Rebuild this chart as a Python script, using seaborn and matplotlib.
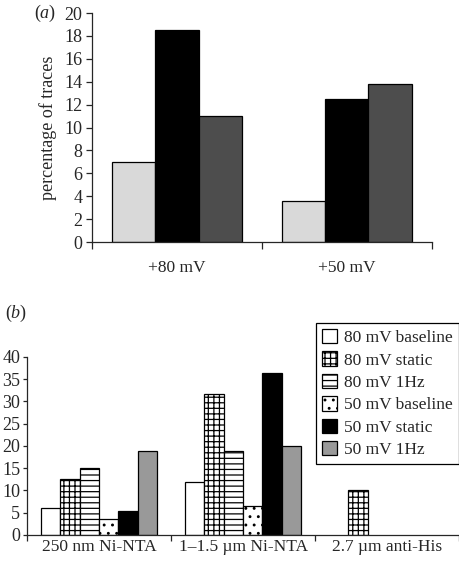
import numpy as np
import pandas as pd
import matplotlib
matplotlib.use("Agg")
import matplotlib.pyplot as plt
import seaborn as sns
from matplotlib.patches import Patch

# ---- data (a) ----
groups_a = ["+80 mV", "+50 mV"]
series_a = ["baseline", "static", "1Hz"]
baseline_a = [7.0, 3.6]
static_a = [18.5, 12.5]
hz_a = [11.0, 13.8]
colors_a = ["#d9d9d9", "#000000", "#4d4d4d"]

# ---- data (b) ----
groups_b = ["250 nm Ni-NTA", "1\u20131.5 \u00b5m Ni-NTA", "2.7 \u00b5m anti-His"]
series_b = ["80 mV baseline", "80 mV static", "80 mV 1Hz",
            "50 mV baseline", "50 mV static", "50 mV 1Hz"]
b80_base = [6.0, 12.0, np.nan]
b80_static = [12.5, 31.6, 10.0]
b80_1hz = [15.0, 18.8, np.nan]
b50_base = [3.5, 6.6, np.nan]
b50_static = [5.3, 36.4, np.nan]
b50_1hz = [18.8, 20.0, np.nan]
colors_b = ["white", "white", "white", "white", "black", "#999999"]
hatches_b = ["", "+++", "---", "..", "", ""]

sns.set_style("ticks")
plt.rcParams["font.family"] = ["Liberation Serif", "DejaVu Serif"]
plt.rcParams["mathtext.fontset"] = "custom"
plt.rcParams["mathtext.rm"] = "Liberation Serif"
plt.rcParams["mathtext.it"] = "Liberation Serif:italic"
plt.rcParams["hatch.linewidth"] = 0.9

df_a = pd.DataFrame({
    "group": groups_a * 3,
    "series": np.repeat(series_a, len(groups_a)),
    "value": baseline_a + static_a + hz_a,
})
df_b = pd.DataFrame({
    "group": groups_b * 6,
    "series": np.repeat(series_b, len(groups_b)),
    "value": b80_base + b80_static + b80_1hz + b50_base + b50_static + b50_1hz,
})

fig = plt.figure(figsize=(4.6, 5.66), dpi=100)
ax1 = fig.add_axes([0.2, 0.5724, 0.739, 0.4046])
ax2 = fig.add_axes([0.0587, 0.0548, 0.9393, 0.3145])

# panel (a)
sns.barplot(data=df_a, x="group", y="value", hue="series", order=groups_a,
            hue_order=series_a, palette=colors_a, saturation=1, width=0.76,
            errorbar=None, edgecolor="black", linewidth=0.9, legend=False, ax=ax1)
ax1.set_xlim(-0.5, 1.5)
ax1.set_ylim(0, 20)
ax1.set_yticks(range(0, 21, 2))
ax1.set_xlabel("")
ax1.set_ylabel("percentage of traces", fontsize=13, labelpad=5)
ax1.set_xticks([-0.5, 0.5, 1.5], minor=True)
ax1.tick_params(axis="x", which="major", length=0, pad=13, labelsize=12.5)
ax1.tick_params(axis="x", which="minor", length=5, width=0.9, direction="out")
ax1.tick_params(axis="y", length=4, width=0.9, pad=3, labelsize=13)
sns.despine(ax=ax1)
for s in ["left", "bottom"]:
    ax1.spines[s].set_linewidth(0.9)

# panel (b)
sns.barplot(data=df_b, x="group", y="value", hue="series", order=groups_b,
            hue_order=series_b, palette=colors_b, saturation=1, width=0.81,
            errorbar=None, edgecolor="black", linewidth=0.9, legend=False, ax=ax2)
for cont, h in zip(ax2.containers, hatches_b):
    for bar in cont:
        bar.set_hatch(h)
ax2.set_xlim(-0.5, 2.5)
ax2.set_ylim(0, 40)
ax2.set_yticks(range(0, 41, 5))
ax2.set_xlabel("")
ax2.set_ylabel("")
ax2.set_xticks([-0.5, 0.5, 1.5, 2.5], minor=True)
ax2.tick_params(axis="x", which="major", length=0, pad=3, labelsize=12.5)
ax2.tick_params(axis="x", which="minor", length=4, width=0.9, direction="out")
ax2.tick_params(axis="y", length=3, width=0.9, pad=2, labelsize=13)
sns.despine(ax=ax2)
for s in ["left", "bottom"]:
    ax2.spines[s].set_linewidth(0.9)

handles = [Patch(facecolor=c, edgecolor="black", hatch=h, linewidth=0.9)
           for c, h in zip(colors_b, hatches_b)]
leg = fig.legend(handles, series_b, loc="upper right",
                 bbox_to_anchor=(459 / 460, 1 - 323 / 566),
                 bbox_transform=fig.transFigure, borderaxespad=0,
                 fontsize=12.5, handlelength=0.9, handleheight=0.9,
                 handletextpad=0.4, labelspacing=0.3, borderpad=0.35,
                 fancybox=False, framealpha=1, edgecolor="black")
leg.get_frame().set_linewidth(0.9)

fig.text(0.075, 1 - 13 / 566, "($a$)", fontsize=13, va="center")
fig.text(0.01, 1 - 313 / 566, "($b$)", fontsize=13, va="center")

fig.savefig("out.png", dpi=100)
